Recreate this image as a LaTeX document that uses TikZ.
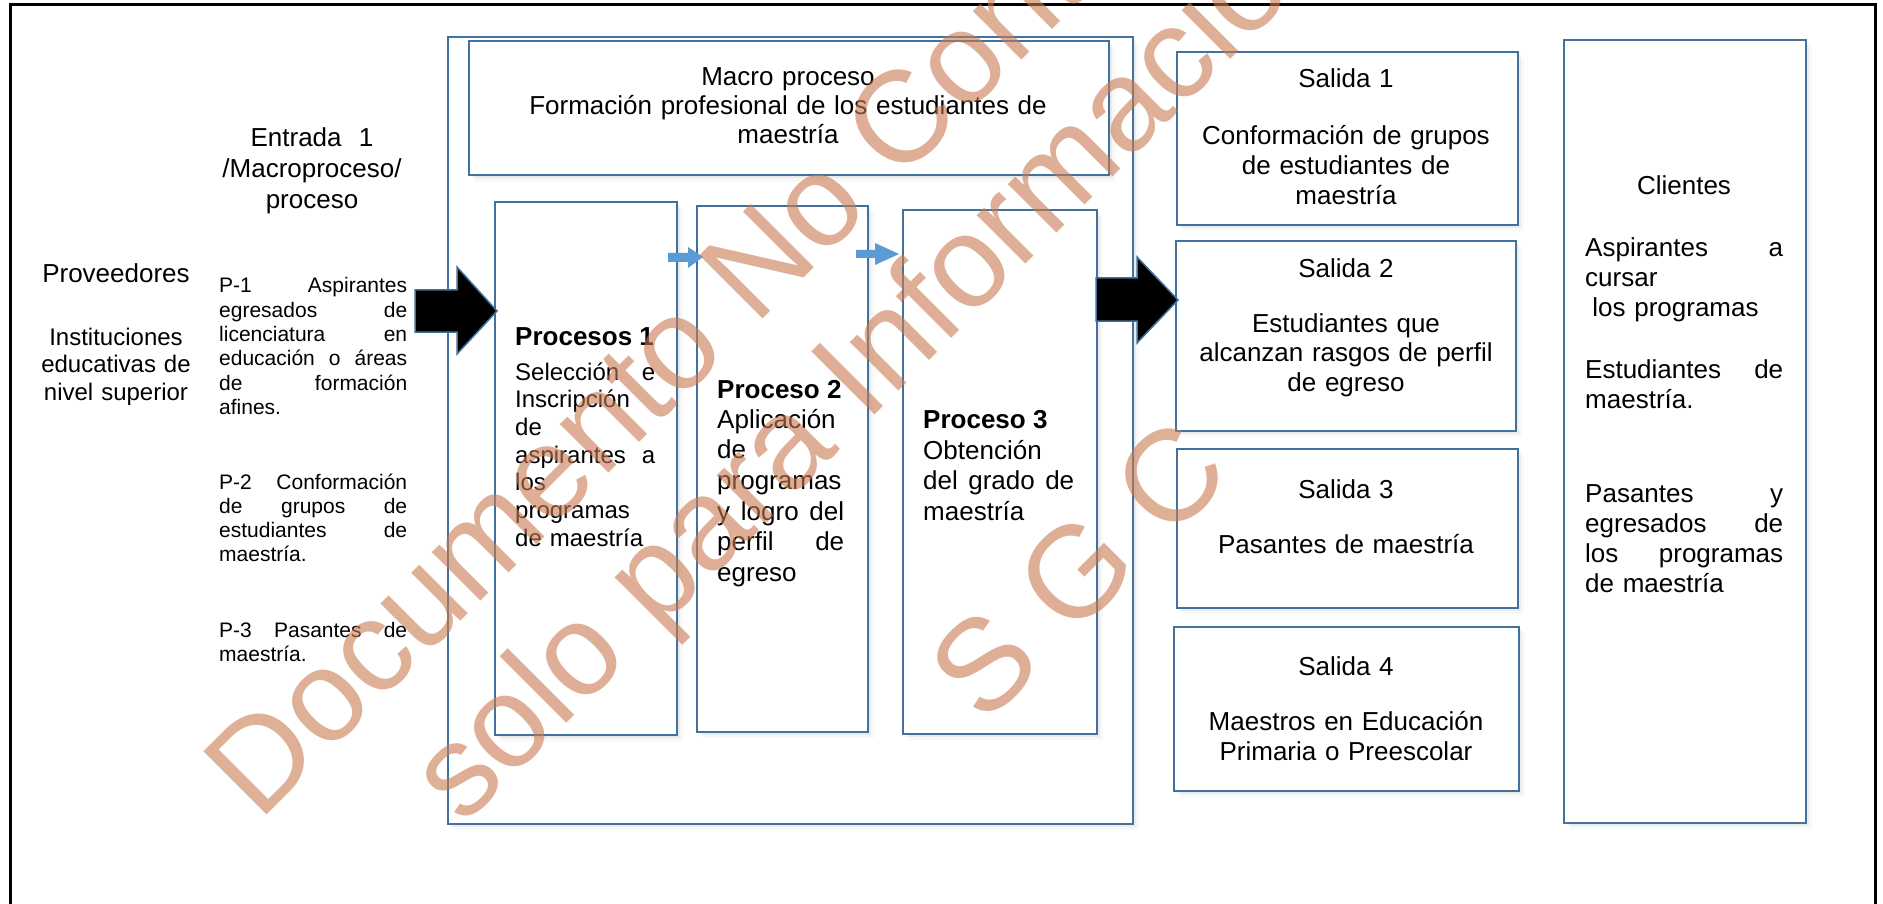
\documentclass[tikz,border=0pt]{standalone}
\usepackage{fontspec}
\setmainfont{Liberation Sans}
\usetikzlibrary{shadows}
\definecolor{boxblue}{RGB}{65,113,156}
\definecolor{arrblue}{RGB}{91,155,213}
\definecolor{wmark}{RGB}{200,123,80}
\newcommand\jl[1]{\leavevmode\hbox to \linewidth{#1}}
\tikzset{
  box/.style={draw=boxblue, line width=2pt, fill=white, inner sep=0pt, anchor=north west,
    drop shadow={shadow xshift=6pt, shadow yshift=-6pt, opacity=0.06},
    drop shadow={shadow xshift=3pt, shadow yshift=-3pt, opacity=0.10}},
  blockarrow/.style={fill=black, draw=boxblue, line width=1.5pt, line join=miter},
  smallarrow/.style={fill=arrblue},
  txt/.style={inner sep=0pt, font=\fontsize{26}{30}\selectfont},
  smalltxt/.style={inner sep=0pt, font=\fontsize{21}{24.3}\selectfont, text width=188pt, align=left, anchor=base west},
  ttl/.style={inner sep=0pt, font=\fontsize{26}{30}\selectfont\bfseries, anchor=base west},
  wm/.style={inner sep=0pt, font=\fontsize{130}{130}\selectfont, text=wmark, text opacity=0.6, rotate=45, anchor=base}
}
\begin{document}
\begin{tikzpicture}[x=1pt,y=-1pt]
\useasboundingbox (0,0) rectangle (1883,904);
% outer frame
\draw[line width=3pt] (10,920) -- (10,5) -- (1875,5) -- (1875,920);

% boxes
\node[box, minimum width=685pt, minimum height=787pt] (macro) at (447,36) {};
\node[box, minimum width=640pt, minimum height=134pt] (top) at (468,40) {};
\node[box, minimum width=182pt, minimum height=533pt] (p1) at (494,201) {};
\node[box, minimum width=171pt, minimum height=526pt] (p2) at (696,205) {};
\node[box, minimum width=194pt, minimum height=524pt] (p3) at (902,209) {};
\node[box, minimum width=341pt, minimum height=173pt] (s1) at (1176,51) {};
\node[box, minimum width=340pt, minimum height=190pt] (s2) at (1175,240) {};
\node[box, minimum width=341pt, minimum height=159pt] (s3) at (1176,448) {};
\node[box, minimum width=345pt, minimum height=164pt] (s4) at (1173,626) {};
\node[box, minimum width=242pt, minimum height=783pt] (cl) at (1563,39) {};

% arrows
\draw[blockarrow] (415,290) -- (457,290) -- (457,267) -- (497,311) -- (457,354) -- (457,332) -- (415,332) -- cycle;
\draw[blockarrow] (1096,278) -- (1137,278) -- (1137,257) -- (1178,300) -- (1137,343) -- (1137,321) -- (1096,321) -- cycle;
\fill[smallarrow] (668,253) -- (688,253) -- (688,247) -- (703,257) -- (688,268) -- (688,262) -- (668,262) -- cycle;
\fill[smallarrow] (856,250) -- (875,250) -- (875,243) -- (899,254) -- (875,265) -- (875,258) -- (856,258) -- cycle;

% left texts
\node[txt, font=\fontsize{26}{31}\selectfont, text width=230pt, align=center, anchor=base] (entrada) at (312,147)
  {Entrada\ \ 1\\/Macroproceso/\\proceso};
\node[txt, anchor=base] (prov) at (116,283) {Proveedores};
\node[txt, font=\fontsize{24}{27.5}\selectfont, text width=180pt, align=center, anchor=base] (inst) at (116,345)
  {Instituciones\\educativas de\\nivel superior};
\node[smalltxt] (pe1) at (219,293)
  {\jl{P-1\hfill Aspirantes}\\\jl{egresados\hfill de}\\\jl{licenciatura\hfill en}\\\jl{educación\hfill o\hfill áreas}\\\jl{de\hfill formación}\\afines.};
\node[smalltxt] (pe2) at (219,489)
  {\jl{P-2\hfill Conformación}\\\jl{de\hfill grupos\hfill de}\\\jl{estudiantes\hfill de}\\maestría.};
\node[smalltxt] (pe3) at (219,637)
  {\jl{P-3\hfill Pasantes\hfill de}\\maestría.};

% macro text
\node[txt, font=\fontsize{26}{29}\selectfont, text width=620pt, align=center, anchor=base] (macrot) at (788,86)
  {Macro proceso\\Formación profesional de los estudiantes de\\maestría};

% process texts
\node[ttl] (p1t) at (515,345) {Procesos 1};
\node[txt, font=\fontsize{24}{27.7}\selectfont, text width=140pt, align=left, anchor=base west] (p1b) at (515,380)
  {\jl{Selección\hfill e}\\Inscripción\\de\\\jl{aspirantes\hfill a}\\los\\programas\\de maestría};
\node[ttl] (p2t) at (717,398) {Proceso 2};
\node[txt, font=\fontsize{26}{30.7}\selectfont, text width=127pt, align=left, anchor=base west] (p2b) at (717,428)
  {Aplicación\\de\\programas\\\jl{y\hfill logro\hfill del}\\\jl{perfil\hfill de}\\egreso};
\node[ttl] (p3t) at (923,428) {Proceso 3};
\node[txt, font=\fontsize{26}{30.7}\selectfont, text width=151pt, align=left, anchor=base west] (p3b) at (923,459)
  {Obtención\\\jl{del\hfill grado\hfill de}\\maestría};

% salidas
\node[txt, text width=330pt, align=center, anchor=base] (s1t) at (1346,88)
  {Salida 1\\[27pt]Conformación de grupos\\de estudiantes de\\maestría};
\node[txt, text width=330pt, align=center, anchor=base] (s2t) at (1346,277)
  {Salida 2\\[25pt]Estudiantes que\\alcanzan rasgos de perfil\\de egreso};
\node[txt, text width=330pt, align=center, anchor=base] (s3t) at (1346,498)
  {Salida 3\\[25pt]Pasantes de maestría};
\node[txt, text width=330pt, align=center, anchor=base] (s4t) at (1346,675)
  {Salida 4\\[25pt]Maestros en Educación\\Primaria o Preescolar};

% clientes
\node[txt, anchor=base] (clt) at (1684,195) {Clientes};
\node[txt, text width=198pt, align=left, anchor=base west] (cl1) at (1585,257)
  {\jl{Aspirantes\hfill a}\\cursar\\\hspace*{0.278em}los programas};
\node[txt, text width=198pt, align=left, anchor=base west] (cl2) at (1585,378)
  {\jl{Estudiantes\hfill de}\\maestría.};
\node[txt, text width=198pt, align=left, anchor=base west] (cl3) at (1585,502)
  {\jl{Pasantes\hfill y}\\\jl{egresados\hfill de}\\\jl{los\hfill programas}\\de maestría};

% watermark
\begin{scope}
\clip (0,0) rectangle (1883,904);
\node[wm] (wm1) at (804,278) {Documento No Controlado};
\node[wm] (wm2) at (905,385) {solo para Información};
\node[wm] (wm3) at (1110,601) {S G C};
\end{scope}
\end{tikzpicture}
\end{document}
